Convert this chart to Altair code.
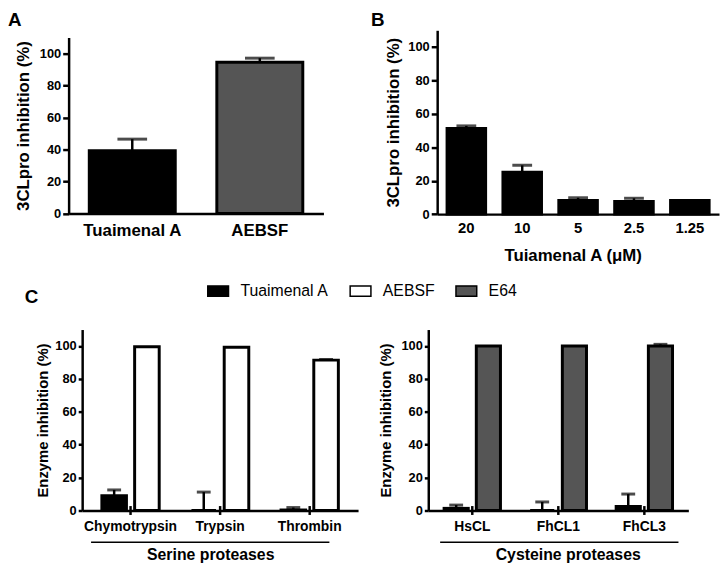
import altair as alt
import pandas as pd

FONT = "Liberation Sans"
W, H = 720, 561

# ---------------- data ----------------
panel_letters = ["A", "B", "C"]

a_compounds = ["Tuaimenal A", "AEBSF"]
a_values = [39.2, 94.5]
a_errors = [7.3, 2.6]

b_concentrations = ["20", "10", "5", "2.5", "1.25"]
b_values = [51.2, 25.0, 8.2, 7.6, 8.2]
b_errors = [1.6, 4.2, 1.6, 1.9, 0.0]

c_series = ["Tuaimenal A", "AEBSF", "E64"]
c_colors = ["#000000", "#ffffff", "#555555"]

serine_enzymes = ["Chymotrypsin", "Trypsin", "Thrombin"]
serine_tuaimenal = [9.0, 0.0, 0.3]
serine_tuaimenal_err = [3.5, 11.2, 1.5]
serine_aebsf = [99.5, 99.3, 91.4]
serine_aebsf_err = [0.0, 0.0, 0.4]

cysteine_enzymes = ["HsCL", "FhCL1", "FhCL3"]
cysteine_tuaimenal = [1.3, 0.0, 2.5]
cysteine_tuaimenal_err = [2.0, 5.2, 7.5]
cysteine_e64 = [100.0, 100.0, 100.0]
cysteine_e64_err = [0.0, 0.0, 1.0]

group_titles = ["Serine proteases", "Cysteine proteases"]
y_ticks = [0, 20, 40, 60, 80, 100]

# ---------------- tables ----------------
dfA = pd.DataFrame({"cat": a_compounds, "value": a_values, "err": a_errors})
dfA["top"] = dfA["value"] + dfA["err"]
dfB = pd.DataFrame({"cat": b_concentrations, "value": b_values, "err": b_errors})
dfB["top"] = dfB["value"] + dfB["err"]

dfCl = pd.DataFrame({
    "cat": serine_enzymes * 2,
    "series": [c_series[0]] * 3 + [c_series[1]] * 3,
    "value": serine_tuaimenal + serine_aebsf,
    "err": serine_tuaimenal_err + serine_aebsf_err,
})
dfCl["top"] = dfCl["value"] + dfCl["err"]
dfCr = pd.DataFrame({
    "cat": cysteine_enzymes * 2,
    "series": [c_series[0]] * 3 + [c_series[2]] * 3,
    "value": cysteine_tuaimenal + cysteine_e64,
    "err": cysteine_tuaimenal_err + cysteine_e64_err,
})
dfCr["top"] = dfCr["value"] + dfCr["err"]

BAR = dict(stroke="black", strokeWidth=3)


def y_enc(rng, axis_x, title, title_x, title_size, tick_size, label_pad):
    return alt.Y(
        "value:Q",
        scale=alt.Scale(domain=[0, 110], range=rng, nice=False),
        axis=alt.Axis(
            orient="left", offset=-axis_x, values=y_ticks, title=title,
            titleX=title_x, titleBaseline="middle", titleFontSize=title_size,
            labelFontSize=13, tickSize=tick_size, labelPadding=label_pad,
        ),
    )


def x_enc(order, rng, p_in, p_out, axis):
    return alt.X("cat:N", sort=order,
                 scale=alt.Scale(domain=order, range=rng, paddingInner=p_in, paddingOuter=p_out),
                 axis=axis)


def error_layers(base, x, cap, xoff=None):
    enc_rule = dict(x=x, y=alt.Y("value:Q"), y2=alt.Y2("top:Q"))
    enc_cap = dict(x=x, y=alt.Y("top:Q"))
    if xoff is not None:
        enc_rule["xOffset"] = xoff
        enc_cap["xOffset"] = xoff
    rule = base.transform_filter("datum.err > 0").mark_rule(color="black", strokeWidth=2.5).encode(**enc_rule)
    tick = base.transform_filter("datum.err > 0").mark_tick(color="black", thickness=3, size=cap).encode(**enc_cap)
    return rule, tick


# ---------------- panel A ----------------
xA = x_enc(a_compounds, [61.3, 319], 0.326, 0.162,
           alt.Axis(orient="bottom", offset=204.7 - H, ticks=False, labelFontSize=17,
                    labelPadding=9, labelAngle=0, title=None))
yA = y_enc([204.7, 26.7], 61.3, "3CLpro inhibition (%)", -45.1, 17, 6, 2)
baseA = alt.Chart(dfA)
barsA = baseA.mark_bar(**BAR).encode(
    x=xA, y=yA,
    fill=alt.condition("datum.cat == 'Tuaimenal A'", alt.value("#000000"), alt.value("#555555")),
)
panelA = alt.layer(barsA, *error_layers(baseA, alt.X("cat:N"), 30))

# ---------------- panel B ----------------
xB = x_enc(b_concentrations, [434, 719], 0.31, 0.177,
           alt.Axis(orient="bottom", offset=205.3 - H, ticks=False, labelFontSize=15,
                    labelPadding=7, labelAngle=0, title="Tuiamenal A (\u03bcM)",
                    titleFontSize=17, titleX=571, titleY=47, titleBaseline="alphabetic"))
yB = y_enc([205.3, 19.4], 434, "3CLpro inhibition (%)", -44, 17, 6, 2)
baseB = alt.Chart(dfB)
barsB = baseB.mark_bar(fill="#000000", **BAR).encode(x=xB, y=yB)
panelB = alt.layer(barsB, *error_layers(baseB, alt.X("cat:N"), 20))

# ---------------- panel C ----------------
legend = alt.Legend(
    orient="none", direction="horizontal", legendX=201, legendY=271.5, title=None,
    symbolType="M-1,-0.5H1V0.5H-1Z", symbolSize=441, symbolStrokeColor="black",
    symbolStrokeWidth=1.5, labelFont=FONT, labelFontSize=16, labelFontWeight="normal",
    labelColor="black", labelOffset=11, columnPadding=18, padding=0,
)
color = alt.Color("series:N", scale=alt.Scale(domain=c_series, range=c_colors), legend=legend)


def c_panel(df, enzymes, pair, x_rng, p_in, p_out, axis_x, title_x, group_title, group_x):
    x = x_enc(enzymes, x_rng, p_in, p_out,
              alt.Axis(orient="bottom", offset=505 - H, ticks=False, labelFontSize=14,
                       labelPadding=9, labelAngle=0, title=group_title, titleFontSize=16,
                       titleX=group_x, titleY=50, titleBaseline="alphabetic"))
    y = y_enc([505, 322], axis_x, "Enzyme inhibition (%)", title_x, 15, 4, 2)
    xoff = alt.XOffset("series:N", sort=pair,
                       scale=alt.Scale(domain=pair, paddingInner=0.25, paddingOuter=0))
    base = alt.Chart(df)
    bars = base.mark_bar(**BAR).encode(x=x, y=y, xOffset=xoff, fill=color)
    err_rule, err_cap = error_layers(base, alt.X("cat:N"), 14, alt.XOffset("series:N"))
    cross = alt.Chart(pd.DataFrame({"cat": enzymes})).mark_rule(color="black", strokeWidth=2.5).encode(
        x=alt.X("cat:N"), y=alt.YDatum(-2.7), y2=alt.Y2Datum(2.7))
    return alt.layer(bars, err_rule, err_cap, cross)


panelCl = c_panel(dfCl, serine_enzymes, [c_series[0], c_series[1]], [75, 354], 0.36, 0.22,
                  75, -40, group_titles[0], 204.5)
panelCr = c_panel(dfCr, cysteine_enzymes, [c_series[0], c_series[2]], [425, 688], 0.345, 0.184,
                  425, -43, group_titles[1], 566)

# group brackets
line_l = alt.Chart(pd.DataFrame({"g": [group_titles[0]]})).mark_rule(color="black", strokeWidth=1.5).encode(
    x=alt.value(84), x2=alt.value(325), y=alt.value(537))
line_r = alt.Chart(pd.DataFrame({"g": [group_titles[1]]})).mark_rule(color="black", strokeWidth=1.5).encode(
    x=alt.value(437), x2=alt.value(678), y=alt.value(537))


def letter(ch, x, y):
    return alt.Chart(pd.DataFrame({"t": [ch]})).mark_text(
        font=FONT, fontSize=19, fontWeight="bold", align="left", baseline="top", color="black"
    ).encode(text="t:N", x=alt.value(x), y=alt.value(y))


chart = alt.layer(
    panelA, panelB, panelCl, panelCr, line_l, line_r,
    letter(panel_letters[0], 0, 0), letter(panel_letters[1], 367, 0), letter(panel_letters[2], 17, 280.6),
).resolve_scale(
    x="independent", y="independent", xOffset="independent"
).properties(
    width=W, height=H, autosize=alt.AutoSizeParams(type="none"), padding=0,
).configure(font=FONT).configure_view(stroke=None).configure_axis(
    domainColor="black", domainWidth=2.5, tickColor="black", tickWidth=2.5,
    labelColor="black", titleColor="black", labelFont=FONT, titleFont=FONT,
    labelFontWeight="bold", titleFontWeight="bold", grid=False,
)

chart.save("out.html", embed_options={"renderer": "svg", "actions": False})
